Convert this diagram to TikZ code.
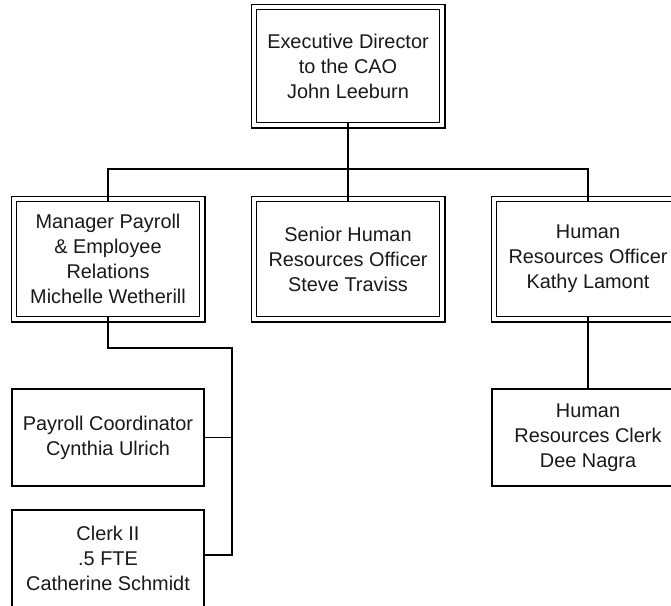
\documentclass[tikz,border=0pt]{standalone}
\usepackage{fontspec}
\setmainfont{Liberation Sans}
\begin{document}
\begin{tikzpicture}[x=1pt,y=1pt,
  txt/.style={font=\fontsize{19.9}{25}\selectfont, align=center, text=black!90},
  % double-ruled box: the node is the heavy inner frame
  dblbox/.style={txt, draw, line width=1.8pt, minimum width=183pt, minimum height=115pt, inner sep=0pt},
  % plain single-ruled box
  onebox/.style={txt, draw, line width=1.8pt, minimum width=192pt, minimum height=97pt, inner sep=0pt},
  outerframe/.style={line width=1.2pt},
  link/.style={line width=1.8pt}
]
\useasboundingbox (0,0) rectangle (671,-605);
\clip (0,0) rectangle (671,-605);

% top of the chart
\node[dblbox, minimum height=113pt] (exec) at (348,-66) {Executive Director\\to the CAO\\John Leeburn};

% second row
\node[dblbox] (mgr) at (108,-259) {Manager Payroll\\\& Employee\\Relations\\Michelle Wetherill};
\node[dblbox] (shr) at (348,-259) {Senior Human\\Resources Officer\\Steve Traviss};
\node[dblbox] (hro) at (588,-259) {Human\\Resources Officer\\Kathy Lamont};

% outer thin frames of the double-ruled boxes
\foreach \n in {exec,mgr,shr,hro}{
  \draw[outerframe] ([shift={(-4.5pt,4.5pt)}]\n.north west) rectangle ([shift={(4.5pt,-4.5pt)}]\n.south east);
}

% third row
\node[onebox] (pay) at (108,-437.5) {Payroll Coordinator\\Cynthia Ulrich};
\node[onebox] (clk) at (108,-558.5) {Clerk II\\.5 FTE\\Catherine Schmidt};
\node[onebox] (hrc) at (588,-437.5) {Human\\Resources Clerk\\Dee Nagra};

% reporting lines
\coordinate (busL) at (108,-169);
\coordinate (busR) at (588,-169);
\coordinate (elbow) at (108,-348);
\coordinate (rail) at (232,-348);

\draw[link] (exec.south) -- (shr.north);
\draw[link] (mgr.north) -- (busL) -- (busR) -- (hro.north);
\draw[link] (mgr.south) -- (elbow) -- (rail) |- ([yshift=3.5pt]clk.east);
\draw[link] (pay.east) -- (pay.east -| rail);
\draw[link] (hro.south) -- (hrc.north);
\end{tikzpicture}
\end{document}
